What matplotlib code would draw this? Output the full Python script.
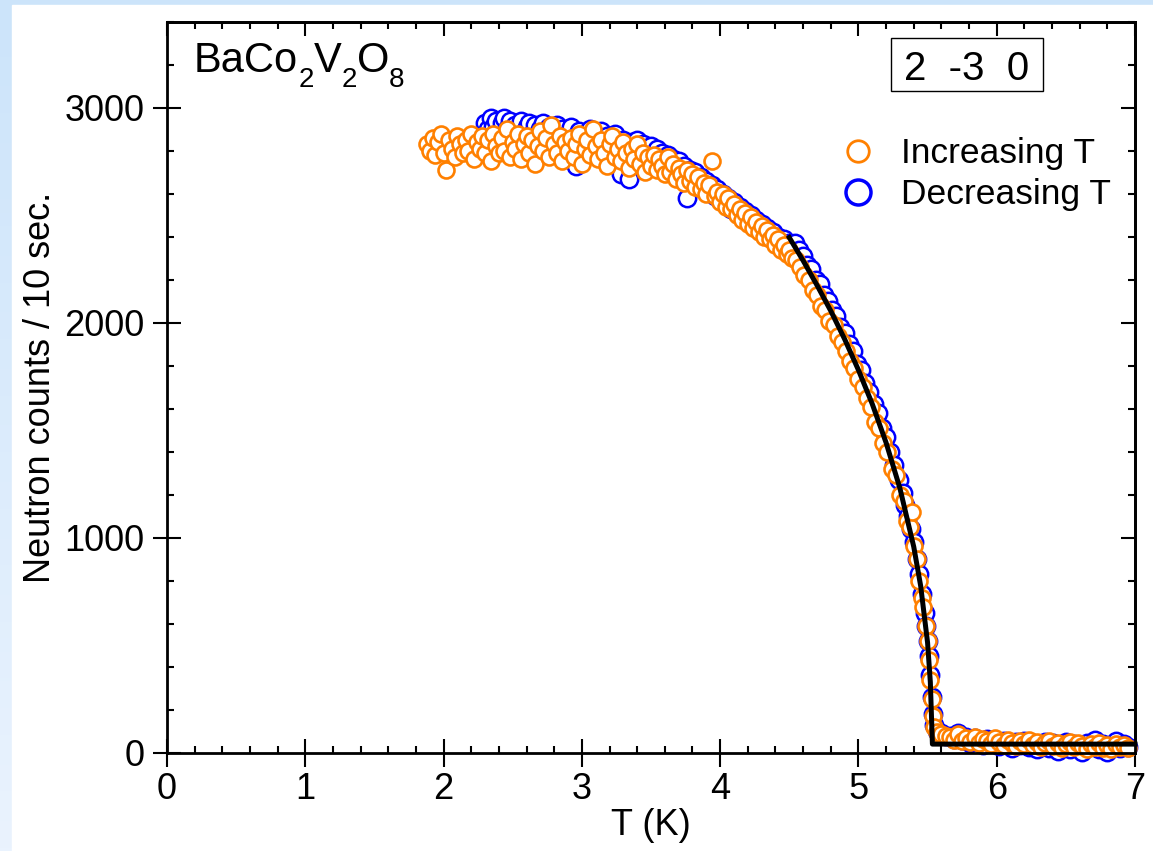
import matplotlib
matplotlib.use("Agg")
import matplotlib.pyplot as plt
import numpy as np
from matplotlib.colors import LinearSegmentedColormap
from matplotlib.lines import Line2D
from matplotlib.patches import Rectangle
from matplotlib.ticker import MultipleLocator
from matplotlib.transforms import IdentityTransform

plt.rcParams["font.family"] = ["Liberation Sans", "DejaVu Sans"]

# Increasing T scan (orange)
inc_T = [
    1.88, 1.90, 1.92, 1.94, 1.96, 1.98, 2.00, 2.02, 2.04, 2.06,
    2.08, 2.10, 2.12, 2.14, 2.16, 2.18, 2.20, 2.22, 2.24, 2.26,
    2.28, 2.30,
    2.32, 2.34, 2.36, 2.38, 2.40, 2.42, 2.44, 2.46, 2.48, 2.50,
    2.52, 2.54, 2.56, 2.58, 2.60, 2.62, 2.64, 2.66, 2.68, 2.70,
    2.72, 2.74, 2.76, 2.78, 2.80, 2.82, 2.84, 2.86, 2.88, 2.90,
    2.92, 2.94, 2.96, 2.98, 3.00, 3.02, 3.04, 3.06, 3.08, 3.10,
    3.12, 3.14, 3.16, 3.18, 3.20, 3.22, 3.24, 3.26, 3.28, 3.30,
    3.32, 3.34, 3.36, 3.38, 3.40, 3.42, 3.44, 3.46, 3.48, 3.50,
    3.52, 3.54, 3.56, 3.58, 3.60, 3.62, 3.64, 3.66, 3.68, 3.70,
    3.72, 3.74, 3.76, 3.78, 3.80, 3.82, 3.84, 3.86, 3.88, 3.90,
    3.92, 3.94, 3.96, 3.98, 4.00, 4.02, 4.04, 4.06, 4.08, 4.10,
    4.12, 4.14, 4.16, 4.18, 4.20, 4.22, 4.24, 4.26, 4.28, 4.30,
    4.32, 4.34, 4.36, 4.38, 4.40, 4.42, 4.44, 4.46, 4.48, 4.50,
    4.52,
    4.55, 4.58, 4.61, 4.64, 4.67, 4.70, 4.73, 4.76, 4.79, 4.82,
    4.85, 4.88, 4.91, 4.94, 4.97, 5.00, 5.03, 5.06, 5.09, 5.12,
    5.15, 5.18, 5.21, 5.24, 5.27, 5.30, 5.33, 5.35, 5.37, 5.39,
    5.40, 5.42, 5.44, 5.46, 5.47, 5.49, 5.50, 5.51, 5.52, 5.53,
    5.54, 5.55, 5.57, 5.60, 5.63,
    5.66, 5.69, 5.72, 5.75, 5.78, 5.81, 5.84, 5.87, 5.90, 5.93,
    5.96, 5.99, 6.02, 6.05, 6.08, 6.11, 6.14, 6.17, 6.20, 6.23,
    6.26, 6.29, 6.32, 6.35, 6.38, 6.41, 6.44, 6.47, 6.50, 6.53,
    6.56, 6.59, 6.62, 6.65, 6.68, 6.71, 6.74, 6.77, 6.80, 6.83,
    6.86, 6.89, 6.92, 6.95,
]
inc_counts = [
    2830, 2800, 2860, 2780, 2840, 2880, 2790, 2710, 2850, 2810,
    2770, 2870, 2830, 2790, 2850, 2800, 2880, 2760, 2840, 2810,
    2870, 2790,
    2850, 2750, 2880, 2820, 2790, 2860, 2800, 2900, 2770, 2840,
    2810, 2880, 2760, 2830, 2870, 2790, 2850, 2740, 2820, 2890,
    2800, 2860, 2770, 2920, 2830, 2790, 2870, 2750, 2840, 2800,
    2860, 2770, 2830, 2880, 2740, 2810, 2850, 2780, 2900, 2820,
    2760, 2850, 2790, 2730, 2830, 2870, 2770, 2810, 2750, 2840,
    2790, 2720, 2810, 2760, 2830, 2740, 2790, 2700, 2770, 2730,
    2780, 2710, 2760, 2730, 2690, 2770, 2700, 2740, 2670, 2720,
    2690, 2650, 2710, 2660, 2690, 2630, 2680, 2620, 2650, 2600,
    2640, 2750, 2590, 2610, 2560, 2600, 2540, 2580, 2530, 2550,
    2500, 2530, 2480, 2510, 2460, 2490, 2440, 2470, 2420, 2450,
    2400, 2430, 2390, 2410, 2360, 2390, 2340, 2360, 2320, 2340,
    2300,
    2290, 2260, 2220, 2200, 2150, 2130, 2080, 2060, 2010, 1990,
    1940, 1910, 1870, 1820, 1790, 1740, 1700, 1650, 1610, 1540,
    1510, 1440, 1400, 1320, 1290, 1200, 1170, 1080, 1050, 1120,
    960, 900, 800, 720, 680, 590, 520, 430, 340, 250,
    170, 120, 95, 85, 78,
    75, 60, 85, 55, 70, 50, 75, 45, 65, 55,
    40, 70, 50, 35, 60, 45, 30, 55, 40, 60,
    35, 50, 25, 45, 55, 30, 45, 20, 40, 50,
    25, 45, 30, 15, 40, 25, 45, 20, 35, 15,
    40, 25, 35, 20,
]

# Decreasing T scan (blue)
dec_T = [
    2.30, 2.32, 2.34, 2.36, 2.38, 2.40, 2.42, 2.44, 2.46, 2.48,
    2.50, 2.52, 2.54, 2.56, 2.58, 2.60, 2.62, 2.64, 2.66, 2.68,
    2.70, 2.72, 2.74, 2.76, 2.78, 2.80, 2.82, 2.84, 2.86, 2.88,
    2.90, 2.92, 2.94, 2.96, 2.98, 3.00, 3.02, 3.04, 3.06, 3.08,
    3.10, 3.12, 3.14, 3.16, 3.18, 3.20, 3.22, 3.24, 3.26, 3.28,
    3.30, 3.32, 3.34, 3.36, 3.38, 3.40, 3.42, 3.44, 3.46, 3.48,
    3.50, 3.52, 3.54, 3.56, 3.58, 3.60, 3.62, 3.64, 3.66, 3.68,
    3.70, 3.72, 3.74, 3.76, 3.78, 3.80, 3.82, 3.84, 3.86, 3.88,
    3.90, 3.92, 3.94, 3.96, 3.98, 4.00, 4.02, 4.04, 4.06, 4.08,
    4.10, 4.12, 4.14, 4.16, 4.18, 4.20, 4.22, 4.24, 4.26, 4.28,
    4.30, 4.32, 4.34, 4.36, 4.38, 4.40, 4.42, 4.44, 4.46, 4.48,
    4.50,
    4.54, 4.57, 4.60, 4.63, 4.66, 4.69, 4.72, 4.75, 4.78, 4.81,
    4.84, 4.87, 4.90, 4.93, 4.96, 4.99, 5.02, 5.05, 5.08, 5.11,
    5.14, 5.17, 5.20, 5.23, 5.26, 5.29, 5.32, 5.34, 5.36, 5.38,
    5.40, 5.42, 5.44, 5.46, 5.48, 5.49, 5.50, 5.51, 5.52, 5.53,
    5.54, 5.55, 5.57, 5.60, 5.63,
    5.66, 5.69, 5.72, 5.75, 5.78, 5.81, 5.84, 5.87, 5.90, 5.93,
    5.96, 5.99, 6.02, 6.05, 6.08, 6.11, 6.14, 6.17, 6.20, 6.23,
    6.26, 6.29, 6.32, 6.35, 6.38, 6.41, 6.44, 6.47, 6.50, 6.53,
    6.56, 6.59, 6.62, 6.65, 6.68, 6.71, 6.74, 6.77, 6.80, 6.83,
    6.86, 6.89, 6.92, 6.95,
]
dec_counts = [
    2930, 2900, 2950, 2910, 2940, 2880, 2930, 2950, 2900, 2940,
    2870, 2920, 2890, 2940, 2860, 2910, 2930, 2880, 2920, 2850,
    2900, 2930, 2870, 2910, 2840, 2890, 2920, 2860, 2900, 2830,
    2880, 2910, 2850, 2730, 2890, 2840, 2880, 2820, 2900, 2860,
    2810, 2870, 2890, 2830, 2870, 2800, 2860, 2880, 2820, 2690,
    2850, 2800, 2670, 2840, 2810, 2850, 2780, 2830, 2800, 2760,
    2820, 2780, 2810, 2750, 2790, 2740, 2780, 2720, 2760, 2710,
    2750, 2690, 2730, 2580, 2710, 2670, 2700, 2640, 2680, 2630,
    2660, 2610, 2640, 2590, 2620, 2570, 2600, 2550, 2580, 2530,
    2560, 2510, 2540, 2490, 2520, 2470, 2500, 2450, 2480, 2430,
    2460, 2420, 2440, 2400, 2420, 2380, 2400, 2360, 2390, 2350,
    2370,
    2370, 2340, 2310, 2270, 2250, 2200, 2180, 2130, 2100, 2060,
    2030, 1980, 1950, 1900, 1870, 1810, 1780, 1720, 1680, 1620,
    1580, 1510, 1470, 1400, 1340, 1270, 1210, 1150, 1100, 1040,
    980, 900, 830, 740, 650, 590, 520, 450, 360, 260,
    180, 130, 100, 90, 80,
    80, 65, 90, 60, 75, 45, 70, 55, 35, 65,
    45, 60, 30, 55, 40, 20, 50, 35, 55, 25,
    45, 15, 40, 50, 20, 45, 10, 35, 50, 15,
    40, 25, 5, 45, 30, 60, 15, 40, 5, 35,
    55, 20, 40, 25,
]

# order-parameter fit (black line)
fit_T = [4.50, 4.60, 4.70, 4.80, 4.90, 5.00, 5.10, 5.20, 5.30, 5.40,
         5.45, 5.50, 5.52, 5.535, 7.00]
fit_counts = [2396, 2289, 2175, 2055, 1924, 1780, 1622, 1442, 1230, 958,
              776, 512, 328, 40, 40]

ORANGE = "#ff8000"
BLUE = "#0000ff"
W, H = 1153, 851

fig = plt.figure(figsize=(W / 100, H / 100), dpi=100)

# light blue frame around the page (gradient), white panel on top
bg = fig.add_axes([0, 0, 1, 1], zorder=-1)
cmap = LinearSegmentedColormap.from_list("bg", ["#cce4fa", "#eaf3fe"])
bg.imshow(np.linspace(0, 1, 256).reshape(-1, 1), aspect="auto", cmap=cmap,
          extent=[0, W, H, 0])
bg.add_patch(Rectangle((12, 5), W, H, color="white"))
bg.set_xlim(0, W)
bg.set_ylim(H, 0)
bg.axis("off")

ax = fig.add_axes([167 / W, (H - 752.7) / H, 968 / W, 731 / H])
ax.plot(dec_T, dec_counts, "o", ms=12.5, mfc="white", mec=BLUE, mew=1.8,
        clip_on=False, zorder=2)
ax.plot(inc_T, inc_counts, "o", ms=11.5, mfc="white", mec=ORANGE, mew=1.9,
        clip_on=False, zorder=2.1)
ax.plot(fit_T, fit_counts, color="black", lw=3.6, zorder=3, clip_on=False)

ax.set_xlim(0, 7)
ax.set_ylim(0, 3400)
ax.set_xticks(range(8))
ax.set_yticks([0, 1000, 2000, 3000])
ax.xaxis.set_minor_locator(MultipleLocator(0.2))
ax.yaxis.set_minor_locator(MultipleLocator(200))
ax.tick_params(which="major", direction="inout", length=20, width=1.5,
               labelsize=26, top=False, right=False)
ax.tick_params(which="minor", direction="in", length=5, width=1.5,
               top=False, right=False)
ax.tick_params(axis="x", which="major", pad=4)
ax.tick_params(axis="y", which="major", pad=6)
for s in ax.spines.values():
    s.set_linewidth(2)

# inward-only ticks on top and right
sx = ax.secondary_xaxis("top")
sx.set_xticks(range(8))
sx.xaxis.set_minor_locator(MultipleLocator(0.2))
sx.tick_params(which="major", direction="in", length=10, width=1.5,
               labeltop=False, labelbottom=False)
sx.tick_params(which="minor", direction="in", length=5, width=1.5)
sx.spines["top"].set_linewidth(2)
sy = ax.secondary_yaxis("right")
sy.set_yticks([0, 1000, 2000, 3000])
sy.yaxis.set_minor_locator(MultipleLocator(200))
sy.tick_params(which="major", direction="in", length=10, width=1.5,
               labelright=False, labelleft=False)
sy.tick_params(which="minor", direction="in", length=5, width=1.5)
sy.spines["right"].set_linewidth(2)

ax.set_xlabel("T (K)", fontsize=26)
ax.xaxis.set_label_coords(0.5, -0.076)
ax.set_ylabel("Neutron counts / 10 sec.", fontsize=26)
ax.yaxis.set_label_coords(-0.113, 0.5)

handles = [
    Line2D([], [], ls="none", marker="o", ms=15.5, mfc="white", mec=ORANGE, mew=2),
    Line2D([], [], ls="none", marker="o", ms=18, mfc="white", mec=BLUE, mew=2.5),
]
ax.legend(handles, ["Increasing T", "Decreasing T"], loc="upper left",
          bbox_to_anchor=(0.696, 0.842), frameon=False, fontsize=25.5,
          borderpad=0, borderaxespad=0, handlelength=1.0, handletextpad=0.7,
          labelspacing=0.22)

# reflection box
ax.add_patch(Rectangle((0.748, 0.905), 0.157, 0.073, transform=ax.transAxes,
                       fill=False, lw=1, ec="black", zorder=4))
ax.text(0.826, 0.920, "2  -3  0", transform=ax.transAxes, ha="center",
        va="baseline", fontsize=29)

# compound name with lowered subscripts
renderer = fig.canvas.get_renderer()
x0, base = 194, H - 72
for piece, size, dy in [("BaCo", 30, 0), ("2", 20, -15), ("V", 30, 0),
                        ("2", 20, -15), ("O", 30, 0), ("8", 20, -15)]:
    t = fig.text(x0, base + dy, piece, fontsize=size, va="baseline",
                 ha="left", transform=IdentityTransform())
    x0 = t.get_window_extent(renderer).x1

fig.savefig("out.png", dpi=100)
